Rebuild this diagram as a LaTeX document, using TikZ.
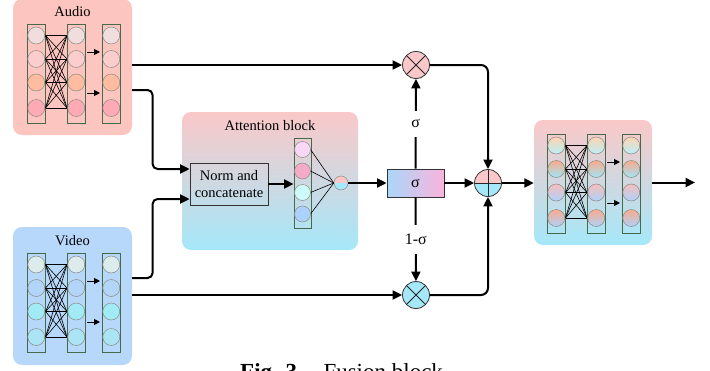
\documentclass[tikz,border=0pt]{standalone}
\usepackage{fontspec}
\setmainfont{Liberation Serif}
\usetikzlibrary{arrows.meta,calc}
\definecolor{audiobg}{RGB}{253,197,192}
\definecolor{videobg}{RGB}{183,216,250}
\definecolor{pinkc}{RGB}{250,200,200}
\definecolor{cyanc}{RGB}{165,232,250}
\definecolor{sigL}{RGB}{170,215,250}
\definecolor{sigR}{RGB}{250,180,220}
\definecolor{colgreen}{RGB}{70,105,75}
\definecolor{circedge}{RGB}{140,140,130}
\definecolor{ca1}{RGB}{240,222,222}
\definecolor{ca2}{RGB}{252,205,205}
\definecolor{ca3}{RGB}{255,188,160}
\definecolor{ca4}{RGB}{255,170,180}
\definecolor{cv1}{RGB}{220,236,236}
\definecolor{cv2}{RGB}{180,213,250}
\definecolor{cv3}{RGB}{160,235,245}
\definecolor{cv4}{RGB}{170,228,245}
\definecolor{ct1}{RGB}{250,215,245}
\definecolor{ct2}{RGB}{245,170,200}
\definecolor{ct3}{RGB}{205,250,250}
\definecolor{ct4}{RGB}{170,210,250}
\definecolor{coA}{RGB}{252,212,178}
\definecolor{coB}{RGB}{185,240,248}
\definecolor{coC}{RGB}{250,170,140}
\definecolor{coD}{RGB}{160,230,245}
\definecolor{coE}{RGB}{245,190,190}
\definecolor{coF}{RGB}{175,210,250}
\tikzset{
  conn/.style={line width=2pt,-{Triangle[length=9.5pt,width=9pt]}},
  smallarr/.style={line width=1pt,-{Triangle[length=6pt,width=6pt]}},
  xline/.style={line width=0.6pt,black},
  colbox/.style={draw=colgreen,line width=0.9pt},
  blk/.style={rectangle,rounded corners=9pt,inner sep=0pt},
  cA1/.style={fill=ca1,draw=circedge,line width=0.5pt},
  cA2/.style={fill=ca2,draw=circedge,line width=0.5pt},
  cA3/.style={fill=ca3,draw=circedge,line width=0.5pt},
  cA4/.style={fill=ca4,draw=circedge,line width=0.5pt},
  cV1/.style={fill=cv1,draw=circedge,line width=0.5pt},
  cV2/.style={fill=cv2,draw=circedge,line width=0.5pt},
  cV3/.style={fill=cv3,draw=circedge,line width=0.5pt},
  cV4/.style={fill=cv4,draw=circedge,line width=0.5pt},
  cT1/.style={fill=ct1,draw=circedge,line width=0.5pt},
  cT2/.style={fill=ct2,draw=circedge,line width=0.5pt},
  cT3/.style={fill=ct3,draw=circedge,line width=0.5pt},
  cT4/.style={fill=ct4,draw=circedge,line width=0.5pt},
  cO1/.style={top color=coA,bottom color=coB,draw=circedge,line width=0.5pt},
  cO2/.style={top color=coC,bottom color=coD,draw=circedge,line width=0.5pt},
  cO3/.style={top color=coE,bottom color=coF,draw=circedge,line width=0.5pt},
  cO4/.style={top color=coC,bottom color=coF,draw=circedge,line width=0.5pt},
  mulnode/.style={circle,draw=black!80,line width=0.8pt,minimum size=27pt,inner sep=0pt,
    path picture={\draw[line width=0.8pt,black!85] (path picture bounding box.north west) -- (path picture bounding box.south east)
      (path picture bounding box.north east) -- (path picture bounding box.south west);}},
  plusnode/.style={circle,draw=black!80,line width=0.8pt,minimum size=27pt,inner sep=0pt,
    path picture={\fill[pinkc] (path picture bounding box.north west) rectangle (path picture bounding box.east);
      \fill[cyanc] (path picture bounding box.west) rectangle (path picture bounding box.south east);
      \draw[line width=0.8pt,black!85] (path picture bounding box.north) -- (path picture bounding box.south)
      (path picture bounding box.west) -- (path picture bounding box.east);}},
  halfnode/.style={circle,draw=circedge,line width=0.5pt,minimum size=14pt,inner sep=0pt,
    path picture={\fill[pinkc] (path picture bounding box.north west) rectangle (path picture bounding box.east);
      \fill[cyanc] (path picture bounding box.west) rectangle (path picture bounding box.south east);}},
  siglbl/.style={fill=white,inner xsep=2pt,inner ysep=9pt},
}
\newcommand\nnblock[3]{%
  \foreach \c in {0,40,75} {\draw[colbox] (#1+\c,#2) rectangle (#1+\c+18.5,#2+99);}
  \foreach \a in {11.5,35,58.5,84} {\foreach \b in {11.5,35,58.5,84} {\draw[xline] (#1+18.5,#2+\a) -- (#1+40,#2+\b);}}
  \foreach \i/\dy in {1/11.5,2/35,3/58.5,4/84} {\foreach \c in {0,40,75} {\path[#3\i] (#1+\c+9.25,#2+\dy) circle[radius=8.5pt];}}
  \draw[smallarr] (#1+60,#2+28) -- (#1+73,#2+28);
  \draw[smallarr] (#1+60,#2+69) -- (#1+73,#2+69);
}
\begin{document}
\begin{tikzpicture}[x=1pt,y=-1pt,font=\fontsize{14.5pt}{17pt}\selectfont]
\useasboundingbox (0,0) rectangle (710,370);
% Audio block
\node[blk,fill=audiobg,minimum width=119pt,minimum height=136pt] (audio) at (72.5,67) {};
\node (audiolbl) at (72.5,12) {Audio};
\nnblock{27}{24}{cA}
% Video block
\node[blk,fill=videobg,minimum width=119pt,minimum height=138pt] (video) at (72.5,296) {};
\node (videolbl) at (72.5,241) {Video};
\nnblock{27}{253}{cV}
% Attention block
\node[blk,top color=pinkc,bottom color=cyanc,minimum width=176pt,minimum height=138pt] (attn) at (270,181) {};
\node (attnlbl) at (270,126) {Attention block};
\node[draw=black!80,line width=0.8pt,minimum width=78pt,minimum height=42pt,align=center,inner sep=1pt,
  font=\fontsize{14.5pt}{17pt}\selectfont] (norm) at (229,184) {Norm and\\concatenate};
\node[draw=colgreen,line width=0.9pt,minimum width=17pt,minimum height=90pt,inner sep=0pt] (attcol) at (302.5,183) {};
\node[halfnode] (attout) at (341,183) {};
\foreach \i/\y in {1/149.5,2/171,3/192.5,4/214} {
  \draw[line width=0.6pt] (310.5,\y) -- (attout.west);
  \path[cT\i] (302.5,\y) circle[radius=8pt];
}
% Gate
\node[draw=black!80,line width=0.8pt,left color=sigL,right color=sigR,minimum width=57pt,minimum height=28pt,inner sep=0pt,font=\fontsize{16pt}{18pt}\selectfont] (sigma) at (415.5,183) {σ};
\node[mulnode,fill=pinkc] (mulA) at (416,65) {};
\node[mulnode,fill=cyanc] (mulV) at (416,295) {};
\node[plusnode] (plus) at (488,183) {};
% Output block
\node[blk,top color=pinkc,bottom color=cyanc,minimum width=118pt,minimum height=125pt] (out) at (593,182.5) {};
\nnblock{547}{134}{cO}
\coordinate (endpt) at (695,182.5);
% Connectors
\draw[conn] (audio.east|-mulA) -- (mulA);
\draw[conn,rounded corners=5pt] ($(audio.east)+(0,23)$) -| ($(norm.west)+(-37,-15)$) -- ($(norm.west)+(0,-15)$);
\draw[conn,rounded corners=5pt] ($(video.east)+(0,-18)$) -| ($(norm.west)+(-37,15)$) -- ($(norm.west)+(0,15)$);
\draw[conn] (video.east|-mulV) -- (mulV);
\draw[conn] (norm.east) -- (norm.east-|attcol.west);
\draw[conn] (attout) -- (sigma);
\draw[conn] (sigma) -- node[siglbl,font=\fontsize{16pt}{18pt}\selectfont] (lblA) {σ} (mulA);
\draw[conn] (sigma) -- node[siglbl,font=\fontsize{16pt}{18pt}\selectfont] (lblV) {1-σ} (mulV);
\draw[conn] (sigma) -- (plus);
\draw[conn,rounded corners=7pt] (mulA) -| (plus);
\draw[conn,rounded corners=7pt] (mulV) -| (plus);
\draw[conn] (plus) -- (plus-|out.west);
\draw[conn] (out.east) -- (endpt);
% Caption (cut off at the bottom edge, as in the reference)
\node[anchor=base west,inner sep=0pt,font=\fontsize{23pt}{27pt}\selectfont] (caption) at (240,379) {\textbf{Fig. 3.}\hspace{0.9em}Fusion block};
\end{tikzpicture}
\end{document}
